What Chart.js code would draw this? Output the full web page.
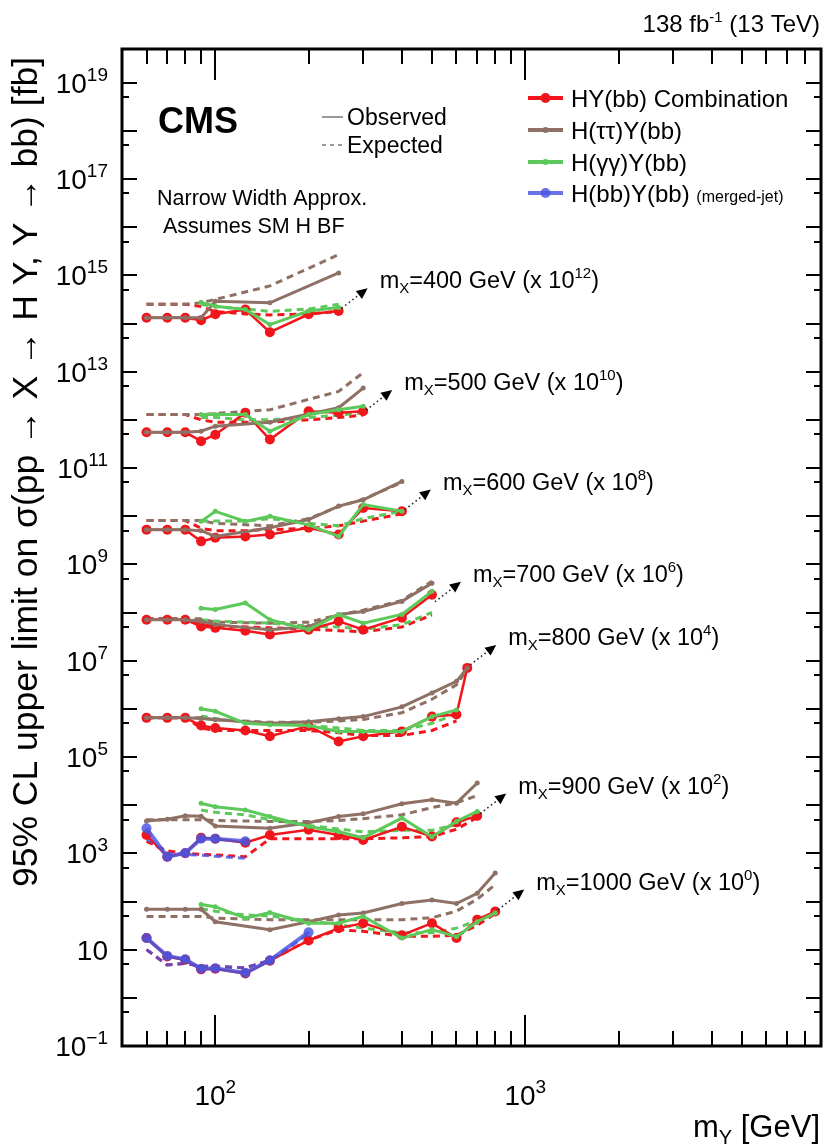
<!DOCTYPE html>
<html>
<head>
<meta charset="utf-8">
<script src="https://cdn.jsdelivr.net/npm/chart.js@4.4.1/dist/chart.umd.min.js"></script>
<style>
  html, body { margin: 0; padding: 0; background: #fff; }
  #wrap { width: 830px; height: 1145px; }
</style>
</head>
<body>
<div id="wrap"><canvas id="limits" width="830" height="1145"></canvas></div>
<script>
// m_X hypotheses and the power of ten each curve is multiplied by
const massX = [400, 500, 600, 700, 800, 900, 1000];
const scalePow = [12, 10, 8, 6, 4, 2, 0];

// m_Y points per m_X
const mYGrid = [
  [60, 70, 80, 90, 100, 125, 150, 200, 250],
  [60, 70, 80, 90, 100, 125, 150, 200, 250, 300],
  [60, 70, 80, 90, 100, 125, 150, 200, 250, 300, 400],
  [60, 70, 80, 90, 100, 125, 150, 200, 250, 300, 400, 500],
  [60, 70, 80, 90, 100, 125, 150, 200, 250, 300, 400, 500, 600, 650],
  [60, 70, 80, 90, 100, 125, 150, 200, 250, 300, 400, 500, 600, 700],
  [60, 70, 80, 90, 100, 125, 150, 200, 250, 300, 400, 500, 600, 700, 800]
];

// 95% CL limits in fb (before scaling), null = no point
const combObs = [
  [132, 132, 132, 117, 155, 195, 66, 155, 182],
  [55, 55, 55, 36, 49, 141, 39, 151, 141, 151],
  [52.5, 52.5, 52.5, 30, 35.5, 38, 41.7, 57.5, 41.7, 148, 126],
  [71, 71, 71, 51, 48, 42, 35, 44, 66, 44, 78, 234],
  [65, 65, 65, 45, 40, 35.5, 27, 44, 21, 27, 34, 69, 76, 708],
  [24, 8.5, 10, 21, 20, 16.6, 24, 31, 24, 19, 35.5, 22.4, 44, 60],
  [17.4, 7.2, 6.2, 3.9, 4.0, 3.2, 5.9, 15.5, 28, 35.5, 20, 35.5, 17.4, 42, 62]
];
const combExp = [
  [251, 251, 251, 224, 178, 158, 151, 158, 178],
  [129, 129, 129, 100, 89, 89, 89, 100, 112, 126],
  [81, 81, 81, 56, 50, 50, 52.5, 56, 63, 79, 112],
  [74, 74, 74, 56, 52.5, 50, 48, 45, 42, 40, 50, 89],
  [65, 65, 65, 40, 35.5, 35.5, 35.5, 35.5, 32, 28, 28, 35.5, 56, null],
  [17.8, 11.2, 10, 9.5, 9.3, 8.5, 20, 20, 20, 20, 21, 22.4, 31.6, 56],
  [10, 4.8, 5.2, 4.5, 4.5, 4.2, 6.0, 15.8, 26, 24, 19, 19, 20, 32, 56]
];
const tautauObs = [
  [132, 132, 132, 132, 288, null, 269, null, 1122],
  [55, 55, 55, 58, 74, null, 89, null, 178, 457],
  [52.5, 52.5, 52.5, 50, 38, null, 57.5, 85, 162, 219, 525],
  [71, 71, 71, 66, 56, null, 44, 51, 91, 105, 170, 407],
  [65, 65, 65, 63, 59, null, 50, 54, 62, 69, 110, 214, 372, 708],
  [47, 51, 60, 59, 37, null, 33, 43, 58, 66, 107, 129, 110, 288],
  [69, 69, 69, 69, 38, null, 26, 38, 52.5, 58, 91, 107, 91, 148, 389]
];
const tautauExp = [
  [251, 251, 251, 269, 316, null, 603, null, 2692],
  [129, 129, 129, 129, 135, null, 162, null, 389, 955],
  [81, 81, 81, 81, 71, null, 63, 89, 158, 224, 501],
  [74, 74, 74, 74, 63, null, 60, 63, 89, 112, 178, 447],
  [65, 65, 65, 65, 60, null, 52.5, 52.5, 56, 60, 83, 158, 316, 661],
  [50, 50, 50, 50, 48, null, 46, 46, 48, 52.5, 63, 89, 112, 158],
  [49, 49, 49, 49, 45, null, 42, 42, 42, 42, 42, 46, 63, 112, 224]
];
const gamgamObs = [
  [null, null, null, 275, 229, 195, 95, 182, 214],
  [null, null, null, 129, 129, 129, 58, 129, 162, 191],
  [null, null, null, 78, 126, 78, 100, 66, 38, 174, 126],
  [null, null, null, 123, 115, 158, 71, 44, 91, 60, 91, 275],
  [null, null, null, 100, 89, 50, 47, 45, 34, 34, 34, 69, 95, null],
  [null, null, null, 110, 93, 79, 58, 36, 28, 21, 54, 22, 46, 74],
  [null, null, null, 87, 78, 45, 59, 35.5, 35.5, 49, 17.4, 26, 18.6, 38, 58]
];
const gamgamExp = [
  [null, null, null, 251, 224, 200, 178, 200, 251],
  [null, null, null, 112, 112, 100, 100, 112, 126, 141],
  [null, null, null, 79, 79, 79, 89, 71, 63, 89, 126],
  [null, null, null, 71, 66, 63, 60, 52.5, 50, 45, 56, 100],
  [null, null, null, 71, 63, 52.5, 50, 45, 40, 35.5, 35.5, 50, 79, null],
  [null, null, null, 79, 71, 63, 50, 38, 32, 28, 30, 30, 40, 71],
  [null, null, null, 71, 63, 52.5, 50, 40, 33, 28, 22.4, 22.4, 28, 40, 56]
];
const mergedObs = [
  [], [], [], [], [],
  [33, 8.5, 10.2, 20, 20, 17.8],
  [17.4, 7.4, 6.3, 4.0, 4.1, 3.3, 6.0, 23]
];
const mergedExp = [
  [], [], [], [], [],
  [20, 10, 9.5, 9.1, 8.7, 7.9],
  [10, 4.8, 5.2, 4.5, 4.5, 4.2, 6.0, 21]
];

const FONT = '"Liberation Sans", Arial, Helvetica, sans-serif';

// lowest rank is painted last (on top)
const channels = [
  { obs: mergedObs, exp: mergedExp, color: 'rgba(72,84,226,0.82)', width: 4, radius: 5, rank: 0 },
  { obs: gamgamObs, exp: gamgamExp, color: '#5dc95b', width: 3, radius: 2.5, rank: 1 },
  { obs: tautauObs, exp: tautauExp, color: '#8e7064', width: 3, radius: 2.5, rank: 2 },
  { obs: combObs, exp: combExp, color: '#f0161c', width: 2.5, radius: 5, rank: 3 }
];

function points(values, g) {
  const out = [];
  (values[g] || []).forEach((v, i) => {
    if (v !== null && v !== undefined) out.push({ x: mYGrid[g][i], y: v * Math.pow(10, scalePow[g]) });
  });
  return out;
}

const datasets = [];
massX.forEach((mx, g) => {
  channels.forEach(ch => {
    datasets.push({
      data: points(ch.obs, g),
      borderColor: ch.color,
      backgroundColor: ch.color,
      borderWidth: ch.width,
      pointRadius: ch.radius,
      pointBorderWidth: 0,
      pointBackgroundColor: ch.color,
      tension: 0,
      order: ch.rank
    });
    datasets.push({
      data: points(ch.exp, g),
      borderColor: ch.color,
      borderWidth: 3,
      borderDash: [7, 5],
      pointRadius: 0,
      tension: 0,
      order: 4 + ch.rank
    });
  });
});

// draws a run of text pieces: [text, size, dy, bold]
function rich(ctx, parts, x, y, align) {
  let w = 0;
  parts.forEach(p => {
    ctx.font = (p[3] ? 'bold ' : '') + p[1] + 'px ' + FONT;
    p.w = ctx.measureText(p[0]).width;
    w += p.w;
  });
  let cx = align === 'right' ? x - w : align === 'center' ? x - w / 2 : x;
  ctx.textAlign = 'left';
  ctx.textBaseline = 'alphabetic';
  parts.forEach(p => {
    ctx.font = (p[3] ? 'bold ' : '') + p[1] + 'px ' + FONT;
    ctx.fillText(p[0], cx, y + (p[2] || 0));
    cx += p.w;
  });
  return w;
}

const decorations = {
  id: 'decorations',
  afterDraw(chart) {
    const ctx = chart.ctx;
    const a = chart.chartArea;
    const xs = chart.scales.x, ys = chart.scales.y;
    ctx.save();
    ctx.fillStyle = '#000';
    ctx.strokeStyle = '#000';

    // frame
    ctx.lineWidth = 3;
    ctx.strokeRect(a.left, a.top, a.right - a.left, a.bottom - a.top);

    // y ticks, both sides
    ctx.lineWidth = 2;
    for (let n = -1; n <= 19; n++) {
      [[Math.pow(10, n), 15], [5 * Math.pow(10, n), 7]].forEach(([v, len]) => {
        if (v <= ys.min || v >= ys.max) return;
        const py = Math.round(ys.getPixelForValue(v));
        ctx.beginPath();
        ctx.moveTo(a.left, py); ctx.lineTo(a.left + len, py);
        ctx.moveTo(a.right, py); ctx.lineTo(a.right - len, py);
        ctx.stroke();
      });
    }
    // x ticks, bottom and top
    for (let n = 1; n <= 3; n++) {
      for (let k = 1; k <= 9; k++) {
        const v = k * Math.pow(10, n);
        if (v <= xs.min || v >= xs.max) continue;
        const len = k === 1 ? 31 : 15;
        const px = Math.round(xs.getPixelForValue(v));
        ctx.beginPath();
        ctx.moveTo(px, a.bottom); ctx.lineTo(px, a.bottom - len);
        ctx.moveTo(px, a.top); ctx.lineTo(px, a.top + len);
        ctx.stroke();
      }
    }

    // y labels
    for (let n = -1; n <= 19; n += 2) {
      const py = ys.getPixelForValue(Math.pow(10, n));
      const parts = n === 1 ? [['10', 28, 0]] : [['10', 28, 0], [n < 0 ? '\u2212' + (-n) : String(n), 19, -12]];
      rich(ctx, parts, 108, py + 10, 'right');
    }
    // x labels
    [2, 3].forEach(n => {
      const px = xs.getPixelForValue(Math.pow(10, n));
      rich(ctx, [['10', 28, 0], [String(n), 19, -12]], px, 1105, 'center');
    });

    // axis titles
    rich(ctx, [['m', 31, 0], ['Y', 20, 7], [' [GeV]', 31, 0]], 820, 1137, 'right');
    ctx.save();
    ctx.translate(37, 472);
    ctx.rotate(-Math.PI / 2);
    rich(ctx, [['95% CL upper limit on \u03c3(pp \u2192 X \u2192 H Y, Y \u2192 bb) [fb]', 35.5, 0]], 0, 0, 'center');
    ctx.restore();

    rich(ctx, [['138 fb', 24, 0], ['-1', 15, -10], [' (13 TeV)', 24, 0]], 820, 32, 'right');
    rich(ctx, [['CMS', 36, 0, true]], 158, 133, 'left');
    rich(ctx, [['Narrow Width Approx.', 21.5, 0]], 157, 205, 'left');
    rich(ctx, [['Assumes SM H BF', 21.5, 0]], 163, 233, 'left');

    // observed / expected key
    ctx.strokeStyle = '#9a9a9a';
    ctx.lineWidth = 2;
    ctx.beginPath(); ctx.moveTo(322, 117); ctx.lineTo(343, 117); ctx.stroke();
    ctx.setLineDash([4, 4]);
    ctx.beginPath(); ctx.moveTo(322, 145); ctx.lineTo(343, 145); ctx.stroke();
    ctx.setLineDash([]);
    rich(ctx, [['Observed', 23, 0]], 347, 125, 'left');
    rich(ctx, [['Expected', 23, 0]], 347, 153, 'left');

    // channel legend
    const rows = [
      { ch: channels[3], y: 98, label: [['HY(bb) Combination', 24, 0]] },
      { ch: channels[2], y: 130, label: [['H(\u03c4\u03c4)Y(bb)', 24, 0]] },
      { ch: channels[1], y: 162, label: [['H(\u03b3\u03b3)Y(bb)', 24, 0]] },
      { ch: channels[0], y: 193, label: [['H(bb)Y(bb) ', 24, 0], ['(merged-jet)', 16, 0]] }
    ];
    rows.forEach(r => {
      ctx.strokeStyle = r.ch.color;
      ctx.fillStyle = r.ch.color;
      ctx.lineWidth = 4;
      ctx.beginPath(); ctx.moveTo(528, r.y); ctx.lineTo(563, r.y); ctx.stroke();
      ctx.beginPath(); ctx.arc(545.5, r.y, r.ch.radius === 5 ? 5 : 3, 0, 2 * Math.PI); ctx.fill();
      ctx.fillStyle = '#000';
      rich(ctx, r.label, 571, r.y + 9, 'left');
    });

    // m_X tags with dotted arrows from the end of each combination curve
    massX.forEach((mx, g) => {
      const o = points(combObs, g), e = points(combExp, g);
      const last = o[o.length - 1];
      let tx = xs.getPixelForValue(last.x), ty = ys.getPixelForValue(last.y);
      const le = e[e.length - 1];
      if (le && le.x === last.x) ty = (ty + ys.getPixelForValue(le.y)) / 2;
      tx += 3;
      ty -= 3;
      const hx = tx + 26, hy = ty - 20;
      ctx.strokeStyle = '#222';
      ctx.lineWidth = 1.6;
      ctx.setLineDash([1.5, 3]);
      ctx.beginPath(); ctx.moveTo(tx, ty); ctx.lineTo(hx - 6, hy + 4.6); ctx.stroke();
      ctx.setLineDash([]);
      const ang = Math.atan2(hy - ty, hx - tx);
      ctx.fillStyle = '#000';
      ctx.beginPath();
      ctx.moveTo(hx, hy);
      ctx.lineTo(hx - 11 * Math.cos(ang) + 5 * Math.sin(ang), hy - 11 * Math.sin(ang) - 5 * Math.cos(ang));
      ctx.lineTo(hx - 11 * Math.cos(ang) - 5 * Math.sin(ang), hy - 11 * Math.sin(ang) + 5 * Math.cos(ang));
      ctx.closePath();
      ctx.fill();
      rich(ctx, [['m', 23.5, 0], ['X', 15, 5], ['=' + mx + ' GeV (x 10', 23.5, 0], [String(scalePow[g]), 15, -10], [')', 23.5, 0]],
        hx + 12, hy, 'left');
    });
    ctx.restore();
  }
};

new Chart(document.getElementById('limits'), {
  type: 'line',
  data: { datasets },
  options: {
    responsive: false,
    animation: false,
    parsing: true,
    layout: { padding: { left: 122, right: 9, top: 49, bottom: 99 } },
    plugins: { legend: { display: false }, tooltip: { enabled: false } },
    scales: {
      x: { type: 'logarithmic', min: 50, max: 9000, display: false },
      y: { type: 'logarithmic', min: 0.1, max: 5e19, display: false }
    }
  },
  plugins: [decorations]
});
</script>
</body>
</html>
